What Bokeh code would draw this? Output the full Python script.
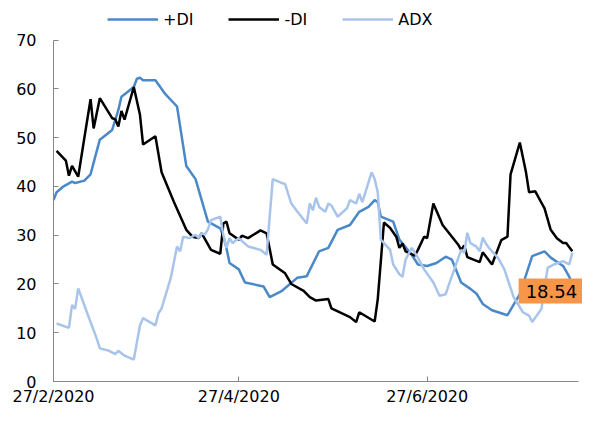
import pandas as pd
from bokeh.plotting import figure
from bokeh.models import Range1d, FixedTicker, Legend, LegendItem, Label
from bokeh.embed import file_html
from bokeh.resources import INLINE

start_date = "2020-02-27"
tick_dates = ["2020-02-27", "2020-04-27", "2020-06-27"]
tick_labels = ["27/2/2020", "27/4/2020", "27/6/2020"]
y_ticks = [0, 10, 20, 30, 40, 50, 60, 70]

# day offsets from start_date and values
pdi_day = [0, 1, 3, 6, 7, 10, 12, 13, 15, 19, 21, 22, 26, 27, 28, 29, 33, 36, 40, 43,
           46, 50, 54, 55, 56, 57, 60, 62, 68, 70, 74, 79, 82, 86, 89, 92, 96, 99, 102, 104,
           105, 106, 110, 112, 116, 118, 121, 124, 127, 129, 132, 135, 137, 139, 142, 147, 151, 155, 159, 161,
           165, 167, 169]
pdi = [37.2, 38.8, 39.9, 41.0, 40.7, 41.2, 42.5, 44.9, 49.6, 51.6, 55.7, 58.4, 60.4, 62.1, 62.3, 61.8, 61.8, 59.1, 56.4, 44.2,
       41.5, 32.8, 31.4, 29.7, 27.4, 24.3, 23.0, 20.3, 19.5, 17.3, 18.6, 21.3, 21.6, 26.7, 27.4, 31.1, 32.1, 34.8, 35.8, 37.2,
       36.8, 33.8, 32.8, 29.1, 26.0, 24.0, 23.7, 24.3, 25.6, 25.0, 20.3, 19.0, 18.0, 15.9, 14.6, 13.6, 17.9, 25.7, 26.7, 25.4,
       23.7, 21.5, 18.54]

mdi_day = [1, 4, 5, 6, 8, 10, 12, 13, 15, 19, 20, 21, 22, 23, 26, 28, 29, 33, 35, 39,
           43, 45, 47, 48, 51, 54, 55, 56, 57, 60, 61, 63, 67, 69, 71, 75, 77, 81, 83, 85,
           89, 90, 96, 98, 99, 104, 105, 107, 109, 111, 112, 113, 114, 117, 118, 120, 121, 123, 126, 131,
           132, 133, 134, 138, 139, 142, 145, 147, 148, 151, 153, 154, 156, 159, 161, 163, 165, 166, 168]
mdi = [47.3, 45.3, 42.2, 44.2, 42.0, 50.0, 57.9, 51.9, 58.1, 54.0, 53.8, 52.3, 55.5, 53.7, 60.4, 54.7, 48.6, 50.3, 42.9, 36.8,
       31.1, 29.7, 29.4, 30.4, 27.0, 26.2, 32.4, 32.8, 30.4, 29.1, 29.9, 29.4, 31.0, 30.4, 24.0, 22.2, 20.0, 18.6, 17.3, 16.6,
       16.9, 15.0, 13.2, 12.2, 14.2, 12.3, 16.9, 32.6, 31.5, 29.7, 27.4, 28.3, 26.7, 25.8, 27.0, 29.7, 29.4, 36.5, 32.1, 28.1,
       27.0, 27.9, 25.5, 24.5, 26.5, 24.0, 29.0, 29.7, 42.5, 49.0, 42.9, 38.8, 39.0, 35.5, 31.1, 29.4, 28.4, 28.4, 26.7]

adx_day = [1, 5, 6, 7, 8, 11, 14, 15, 18, 20, 21, 23, 26, 28, 29, 33, 34, 35, 38, 40,
           41, 42, 44, 46, 47, 48, 49, 50, 51, 54, 55, 56, 57, 58, 60, 63, 67, 69, 71, 74,
           75, 77, 79, 82, 83, 84, 85, 86, 88, 89, 90, 92, 95, 96, 98, 99, 100, 103, 104, 105,
           106, 109, 110, 112, 113, 114, 116, 118, 120, 123, 125, 127, 128, 132, 133, 134, 135, 137, 138, 139,
           140, 141, 144, 146, 149, 152, 154, 155, 158, 160, 162, 165, 167, 168]
adx = [11.9, 11.0, 15.7, 14.9, 19.1, 13.9, 8.8, 6.8, 6.3, 5.6, 6.3, 5.3, 4.5, 11.5, 13.0, 11.5, 14.0, 15.0, 21.3, 27.7,
       26.7, 29.7, 29.4, 30.1, 29.4, 30.4, 30.1, 31.2, 33.1, 33.8, 30.0, 27.4, 29.4, 28.4, 29.4, 27.7, 27.0, 26.0, 41.5, 40.7,
       40.5, 36.5, 34.8, 32.4, 36.5, 35.1, 37.7, 35.8, 34.8, 36.5, 36.1, 33.8, 35.5, 37.2, 36.5, 38.5, 36.8, 42.9, 41.5, 38.8,
       29.1, 27.0, 24.0, 22.0, 21.5, 25.0, 27.4, 25.4, 23.0, 20.3, 17.6, 17.9, 19.8, 27.0, 26.4, 30.5, 28.4, 27.6, 26.7, 29.5,
       28.3, 27.4, 25.3, 23.0, 17.3, 14.2, 13.5, 12.2, 14.9, 23.3, 24.0, 24.7, 24.0, 26.4]

last_label = "18.54"

start = pd.Timestamp(start_date)
ticks = [(pd.Timestamp(d) - start).days for d in tick_dates]
x_end = 170
y_end = 70

FONT = "DejaVu Sans"
C_PDI = "#4a88c8"
C_MDI = "#000000"
C_ADX = "#a9c4eb"

# frame spans x 53..582 and y 0..384; axes drawn only over 0..170 days and 0..70
p = figure(width=582, height=408, output_backend="svg", toolbar_location=None,
           x_range=Range1d(0, x_end * 529.0 / 525.0), y_range=Range1d(0, y_end * 384.0 / 344.0),
           min_border_left=53, min_border_right=0, min_border_top=0, min_border_bottom=24)
p.outline_line_color = None
p.grid.visible = False
p.background_fill_color = "white"
p.border_fill_color = "white"

r_pdi = p.line(pdi_day, pdi, line_color=C_PDI, line_width=2.5)
r_mdi = p.line(mdi_day, mdi, line_color=C_MDI, line_width=2.5)
r_adx = p.line(adx_day, adx, line_color=C_ADX, line_width=2.5)

for ax in (p.xaxis[0], p.yaxis[0]):
    ax.axis_line_color = "#868686"
    ax.major_tick_line_color = "#868686"
    ax.minor_tick_line_color = None
    ax.major_tick_in = 5
    ax.major_tick_out = 0
    ax.major_label_text_font = FONT
    ax.major_label_text_font_size = "16px"
    ax.major_label_text_color = "#000000"

p.xaxis[0].ticker = FixedTicker(ticks=ticks)
p.xaxis[0].bounds = (0, x_end)
p.xaxis[0].major_label_overrides = {t: l for t, l in zip(ticks, tick_labels)}
p.xaxis[0].major_label_standoff = 5
p.yaxis[0].ticker = FixedTicker(ticks=y_ticks)
p.yaxis[0].bounds = (0, y_end)
p.yaxis[0].major_label_standoff = 17

legend = Legend(items=[LegendItem(label="+DI", renderers=[r_pdi]),
                       LegendItem(label="-DI", renderers=[r_mdi]),
                       LegendItem(label="ADX", renderers=[r_adx])],
                orientation="horizontal", location=(54, 352),
                glyph_width=51, glyph_height=20, label_standoff=5, spacing=35,
                padding=0, margin=0, border_line_color=None, background_fill_alpha=0,
                label_text_font=FONT, label_text_font_size="16px", label_text_color="#000000")
p.add_layout(legend, "center")

lab = Label(x=pdi_day[-1], y=pdi[-1], text=last_label, x_offset=-24,
            text_align="center", text_baseline="middle",
            text_font=FONT, text_font_size="18px", text_color="#000000",
            background_fill_color="#f79646", padding=(7, 6))
p.add_layout(lab)

open("out.html", "w").write(file_html(p, INLINE))
